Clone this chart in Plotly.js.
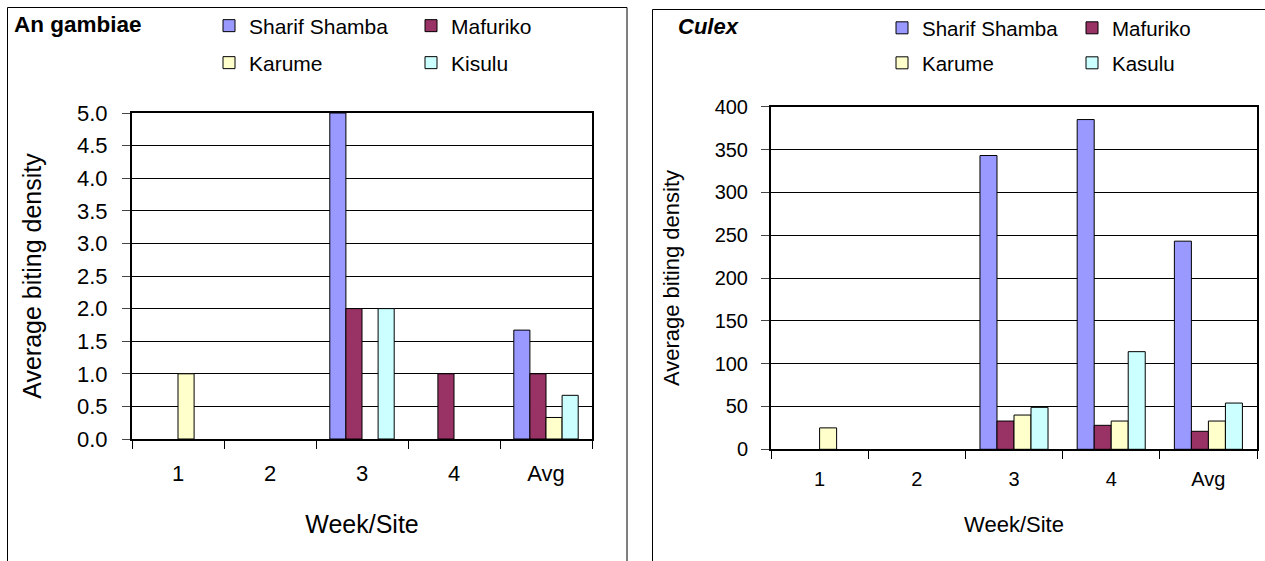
<!DOCTYPE html>
<html>
<head>
<meta charset="utf-8">
<script src="https://cdn.plot.ly/plotly-3.0.1.min.js"></script>
<style>
html,body{margin:0;padding:0;background:#fff;}
#chart{width:1265px;height:561px;}
</style>
</head>
<body>
<div id="chart"></div>
<script>
// ---- data ----
const categories = ['1', '2', '3', '4', 'Avg'];

// An gambiae
const gambiaeTitle = 'An gambiae';
const gambiaeSharifShamba = [0, 0, 5.0, 0, 1.67];
const gambiaeMafuriko     = [0, 0, 2.0, 1.0, 1.0];
const gambiaeKarume       = [1.0, 0, 0, 0, 0.33];
const gambiaeKisulu       = [0, 0, 2.0, 0, 0.67];
const gambiaeSeriesNames  = ['Sharif Shamba', 'Mafuriko', 'Karume', 'Kisulu'];

// Culex
const culexTitle = 'Culex';
const culexSharifShamba = [0, 0, 343, 385, 243];
const culexMafuriko     = [0, 0, 33, 28, 21];
const culexKarume       = [25, 0, 40, 33, 33];
const culexKasulu       = [0, 0, 49, 114, 54];
const culexSeriesNames  = ['Sharif Shamba', 'Mafuriko', 'Karume', 'Kasulu'];

const seriesColors = ['#9999FF', '#993366', '#FFFFCC', '#CCFFFF'];
const xTitle = 'Week/Site';
const yTitle = 'Average biting density';

// ---- layout helpers ----
const W = 1265, H = 561;
const px = v => v / W;
const py = v => 1 - v / H;
const FONT = '"Liberation Sans", Arial, sans-serif';

function bars(vals, names, xa, ya, legends) {
  return vals.map((v, i) => ({
    type: 'bar',
    name: names[i],
    x: categories,
    // zero-height bars are not drawn (no outline), as in the original
    y: v.map(d => (d === 0 ? null : d)),
    xaxis: xa,
    yaxis: ya,
    legend: legends[i < 2 ? 0 : 1],
    marker: {color: seriesColors[i], line: {color: '#000', width: 1}},
    hoverinfo: 'x+y+name'
  }));
}

const traces = [
  ...bars([gambiaeSharifShamba, gambiaeMafuriko, gambiaeKarume, gambiaeKisulu],
          gambiaeSeriesNames, 'x', 'y', ['legend', 'legend2']),
  ...bars([culexSharifShamba, culexMafuriko, culexKarume, culexKasulu],
          culexSeriesNames, 'x2', 'y2', ['legend3', 'legend4'])
];

function xaxisDef(domain, anchor, fs, tfs, standoff, lblOff) {
  return {
    domain: domain, anchor: anchor, type: 'category',
    categoryorder: 'array', categoryarray: categories,
    range: [-0.5, 4.5], fixedrange: true,
    showline: true, linecolor: '#000', linewidth: 2, mirror: true,
    ticks: 'outside', tickson: 'boundaries', ticklen: 8, tickcolor: '#000', tickwidth: 1,
    ticklabelstandoff: lblOff,
    tickfont: {family: FONT, size: fs, color: '#000'},
    showgrid: false, zeroline: false,
    title: {text: xTitle, font: {family: FONT, size: tfs, color: '#000'}, standoff: standoff}
  };
}
function yaxisDef(domain, anchor, range, dtick, fmt, fs, tfs, standoff, lblOff) {
  return {
    domain: domain, anchor: anchor, range: range, dtick: dtick, tickformat: fmt,
    fixedrange: true,
    showline: true, linecolor: '#000', linewidth: 2, mirror: true,
    ticks: 'outside', ticklen: 8, tickcolor: '#444', tickwidth: 1,
    ticklabelstandoff: lblOff,
    tickfont: {family: FONT, size: fs, color: '#000'},
    showgrid: true, gridcolor: '#000', gridwidth: 1, zeroline: false,
    title: {text: yTitle, font: {family: FONT, size: tfs, color: '#000'}, standoff: standoff}
  };
}

function legendDef(x, y, ew, fs) {
  return {
    orientation: 'h', x: x, y: y, xanchor: 'left', yanchor: 'middle',
    entrywidth: ew, entrywidthmode: 'pixels',
    font: {family: FONT, size: fs, color: '#000'},
    bgcolor: 'rgba(0,0,0,0)', borderwidth: 0, itemclick: false, itemdoubleclick: false
  };
}

const layout = {
  width: W, height: H,
  margin: {l: 0, r: 0, t: 0, b: 0},
  paper_bgcolor: '#fff', plot_bgcolor: '#fff',
  font: {family: FONT, color: '#000'},
  barmode: 'group', bargap: 0.3, bargroupgap: 0,
  showlegend: true,
  xaxis:  xaxisDef([px(132), px(592)], 'y', 22, 25, 30, 14),
  yaxis:  yaxisDef([py(439), py(113)], 'x', [0, 5], 0.5, '.1f', 22, 25, 28, 10),
  xaxis2: xaxisDef([px(771), px(1257)], 'y2', 20, 22, 27, 11),
  yaxis2: yaxisDef([py(449.3), py(106.7)], 'x2', [0, 400], 50, 'd', 20, 22, 29, 9),
  legend:  legendDef(px(209), py(26), 157, 21),
  legend2: legendDef(px(209), py(63), 157, 21),
  legend3: legendDef(px(882), py(28), 145, 20.5),
  legend4: legendDef(px(882), py(63), 145, 20.5),
  annotations: [
    {xref: 'paper', yref: 'paper', x: px(12), y: py(25), xanchor: 'left', yanchor: 'middle',
     text: '<b>' + gambiaeTitle + '</b>', showarrow: false,
     font: {family: FONT, size: 22.5, color: '#000'}},
    {xref: 'paper', yref: 'paper', x: px(676), y: py(26), xanchor: 'left', yanchor: 'middle',
     text: '<b><i>' + culexTitle + '</i></b>', showarrow: false,
     font: {family: FONT, size: 22, color: '#000'}}
  ],
  shapes: [
    // left panel frame
    {type: 'line', xref: 'paper', yref: 'paper', x0: px(7.5), x1: px(7.5), y0: py(7.5), y1: py(565), line: {color: '#000', width: 1}},
    {type: 'line', xref: 'paper', yref: 'paper', x0: px(7.5), x1: px(627), y0: py(7.5), y1: py(7.5), line: {color: '#000', width: 1}},
    {type: 'line', xref: 'paper', yref: 'paper', x0: px(627), x1: px(627), y0: py(7.5), y1: py(565), line: {color: '#000', width: 1}},
    // right panel frame
    {type: 'line', xref: 'paper', yref: 'paper', x0: px(652.5), x1: px(652.5), y0: py(9.5), y1: py(565), line: {color: '#000', width: 1}},
    {type: 'line', xref: 'paper', yref: 'paper', x0: px(652.5), x1: px(1270), y0: py(9.5), y1: py(9.5), line: {color: '#000', width: 1}}
  ]
};

Plotly.newPlot('chart', traces, layout, {displayModeBar: false, staticPlot: true});
</script>
</body>
</html>
